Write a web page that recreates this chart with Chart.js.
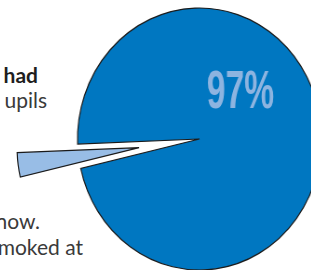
<!DOCTYPE html>
<html>
<head>
<meta charset="utf-8">
<script src="https://cdn.jsdelivr.net/npm/chart.js@4/dist/chart.umd.min.js"></script>
<style>
  html, body { margin: 0; padding: 0; background: #fff; }
  body { position: relative; width: 311px; height: 270px; overflow: hidden; }
  .txt { position: absolute; font-family: Lato, "Open Sans", sans-serif; font-size: 21px;
         line-height: 21px; color: #3a3a3a; white-space: nowrap; text-align: right; }
  .b { font-weight: bold; color: #1e1e1e; }
</style>
</head>
<body>
<div class="txt b" style="right:273px; top:64px;">had</div>
<div class="txt" style="right:264px; top:89px;">upils</div>
<div class="txt" style="right:271px; top:210px;">now.</div>
<div class="txt" style="right:228px; top:236px;">moked at</div>
<!-- inline size so Chart.js keeps it: the canvas is squeezed sideways, the pie in the picture is an ellipse -->
<canvas id="pie" width="420" height="300"
        style="position:absolute; left:4px; top:-11px; width:391px; height:300px;"></canvas>

<script>
const labels = ['3%', '97%'];
const shares = [3, 97];
const fills = ['#98bde6', '#0077c1'];

// pull the small slice out along its middle angle (chart.js' own offset also grows the radius)
const explode = {
  id: 'explode',
  afterUpdate(chart) {
    const arc = chart.getDatasetMeta(0).data[0];
    const mid = (arc.startAngle + arc.endAngle) / 2;
    arc.x += Math.cos(mid) * 65.5;
    arc.y += Math.sin(mid) * 65.5;
  }
};

const pctLabel = {
  id: 'pctLabel',
  afterDatasetsDraw(chart) {
    const arc = chart.getDatasetMeta(0).data[1];
    const ctx = chart.ctx;
    ctx.save();
    ctx.translate(arc.x + 44, arc.y - 46);
    ctx.scale(0.67, 1);
    ctx.font = 'bold 54px "Liberation Sans", Arial, sans-serif';
    ctx.fillStyle = '#8db4e0';
    ctx.textAlign = 'center';
    ctx.textBaseline = 'middle';
    ctx.fillText(shares[1] + '%', 0, 0);
    ctx.restore();
  }
};

new Chart(
  document.getElementById('pie'),
  {
    type: 'pie',
    data: {
      labels: labels,
      datasets: [
        {
          data: shares,
          backgroundColor: fills,
          borderColor: '#1a1a1a',
          borderWidth: 1.2,
          borderJoinStyle: 'miter',
          hoverOffset: 0
        }
      ]
    },
    options: {
      responsive: false,
      devicePixelRatio: 1,
      animation: false,
      events: [],
      radius: 131,
      rotation: 257,
      layout: { padding: 0 },
      plugins: {
        legend: { display: false },
        tooltip: { enabled: false }
      }
    },
    plugins: [explode, pctLabel]
  }
);
</script>
</body>
</html>
